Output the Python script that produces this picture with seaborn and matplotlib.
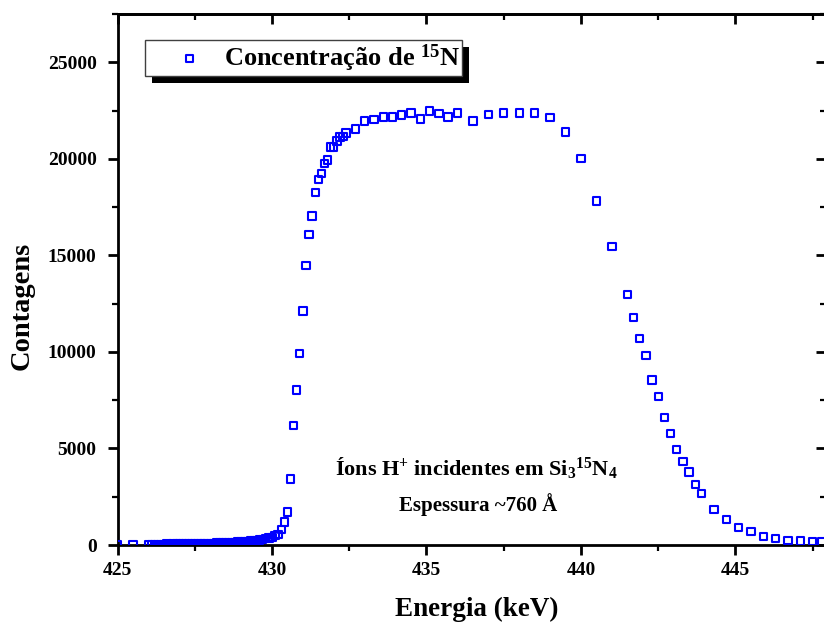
import matplotlib
matplotlib.use("Agg")
import matplotlib.pyplot as plt
import pandas as pd
import seaborn as sns
from matplotlib.patches import Rectangle
from matplotlib.ticker import MultipleLocator

# Energy of the incident protons (keV)
energia = [
    425.0, 425.5,
    426.0, 426.1, 426.2, 426.3, 426.4, 426.5, 426.6, 426.7, 426.8, 426.9,
    427.0, 427.1, 427.2, 427.3, 427.4, 427.5, 427.6, 427.7, 427.8, 427.9,
    428.0, 428.1, 428.2, 428.3, 428.4, 428.5, 428.6, 428.7, 428.8, 428.9,
    429.0, 429.1, 429.2, 429.3, 429.4, 429.5, 429.6, 429.7, 429.8, 429.9,
    430.0, 430.1, 430.2, 430.3, 430.4, 430.5, 430.6, 430.7, 430.8, 430.9,
    431.0, 431.1, 431.2, 431.3, 431.4, 431.5, 431.6, 431.7, 431.8, 431.9,
    432.0, 432.1, 432.2, 432.3, 432.4, 432.7,
    433.0, 433.3, 433.6, 433.9, 434.2, 434.5, 434.8, 435.1, 435.4, 435.7,
    436.0, 436.5, 437.0, 437.5, 438.0, 438.5, 439.0, 439.5,
    440.0, 440.5, 441.0, 441.5, 441.7, 441.9, 442.1, 442.3, 442.5, 442.7,
    442.9, 443.1, 443.3, 443.5, 443.7, 443.9, 444.3, 444.7,
    445.1, 445.5, 445.9, 446.3, 446.7, 447.1, 447.5, 447.8,
]

# Gamma-ray counts from the 15N(p,ag)12C resonance
contagens = [
    0, 20,
    30, 35, 30, 40, 35, 40, 45, 40, 45, 50,
    50, 55, 50, 60, 55, 65, 70, 65, 75, 80,
    80, 90, 95, 100, 105, 115, 120, 130, 140, 150,
    160, 175, 185, 200, 215, 235, 255, 285, 320, 370,
    400, 480, 560, 790, 1190, 1710, 3420, 6200, 8020, 9920,
    12110, 14490, 16080, 17030, 18260, 18940, 19240, 19760, 19930, 20620,
    20620, 20930, 21130, 21170, 21340, 21550,
    21960, 22050, 22170, 22170, 22270, 22380, 22070, 22480, 22350, 22170,
    22380, 21960, 22310, 22380, 22380, 22380, 22140, 21390,
    20030, 17820, 15460, 12980, 11770, 10700, 9830, 8540, 7680, 6610,
    5780, 4950, 4330, 3780, 3140, 2660, 1850, 1330,
    920, 690, 430, 330, 240, 210, 190, 160,
]

serie = "Concentração de $^{15}$N"
linha1 = "Íons H$^{+}$ incidentes em Si$_{3}$$^{15}$N$_{4}$"
linha2 = "Espessura ~760 Å"

sns.set_theme(style="ticks")
plt.rcParams.update({
    "font.family": ["Liberation Serif", "DejaVu Serif"],
    "font.weight": "bold",
    "mathtext.fontset": "custom",
    "mathtext.rm": "Liberation Serif:bold",
    "mathtext.bf": "Liberation Serif:bold",
    "mathtext.it": "Liberation Serif:bold",
    "axes.linewidth": 2.0,
    "axes.edgecolor": "black",
    "axes.labelcolor": "black",
    "xtick.color": "black",
    "ytick.color": "black",
    "xtick.labelcolor": "black",
    "ytick.labelcolor": "black",
    "text.color": "black",
})

fig = plt.figure(figsize=(8.24, 6.24), dpi=100)
ax = fig.add_axes([117.5 / 824, 79 / 624, 708.5 / 824, 531 / 624])

df = pd.DataFrame({"Energia": energia, "Contagens": contagens})
sns.scatterplot(
    data=df, x="Energia", y="Contagens", ax=ax,
    marker="s", s=28, color="#0000ff", facecolor="none",
    edgecolor="#0000ff", linewidth=1.5, label=serie, zorder=3,
)

ax.set_xlim(425, 447.93)
ax.set_ylim(0, 27500)

ax.xaxis.set_major_locator(MultipleLocator(5))
ax.xaxis.set_minor_locator(MultipleLocator(2.5))
ax.yaxis.set_major_locator(MultipleLocator(5000))
ax.yaxis.set_minor_locator(MultipleLocator(2500))
ax.tick_params(which="major", direction="out", length=7, width=2,
               labelsize=14, top=False, right=False)
ax.tick_params(axis="y", which="major", pad=8)
ax.tick_params(axis="x", which="major", pad=5)
ax.tick_params(which="minor", direction="out", length=4, width=1.6,
               top=False, right=False)

# Inward ticks on the top and right edges
topo = ax.secondary_xaxis("top")
topo.xaxis.set_major_locator(MultipleLocator(5))
topo.xaxis.set_minor_locator(MultipleLocator(2.5))
topo.tick_params(which="major", direction="in", length=7, width=2, labeltop=False)
topo.tick_params(which="minor", direction="in", length=4, width=1.6)
direita = ax.secondary_yaxis("right")
direita.yaxis.set_major_locator(MultipleLocator(5000))
direita.yaxis.set_minor_locator(MultipleLocator(2500))
direita.tick_params(which="major", direction="in", length=7, width=2, labelright=False)
direita.tick_params(which="minor", direction="in", length=4, width=1.6)

ax.set_xlabel("Energia (keV)", fontsize=19.5, fontweight="bold")
ax.set_ylabel("Contagens", fontsize=20.5, fontweight="bold")
ax.xaxis.set_label_coords(0.507, -0.098)
ax.yaxis.set_label_coords(-0.117, 0.45)

ax.text(0.506, 0.132, linha1, transform=ax.transAxes, ha="center",
        va="baseline", fontsize=16, fontweight="bold")
ax.text(0.509, 0.064, linha2, transform=ax.transAxes, ha="center",
        va="baseline", fontsize=15, fontweight="bold")

leg = ax.legend(
    loc="upper left", bbox_to_anchor=(0.0388, 0.951), borderaxespad=0,
    fontsize=19, frameon=True, fancybox=False, edgecolor="#404040",
    framealpha=1, handletextpad=-0.3, borderpad=0.08, handlelength=3.2,
)
leg.get_frame().set_linewidth(1.0)
leg.set_zorder(6)

# Solid black drop shadow behind the legend box
fig.canvas.draw()
bb = leg.get_frame().get_window_extent(fig.canvas.get_renderer())
x0, y0 = fig.transFigure.inverted().transform((bb.x0 + 7, bb.y0 - 7))
x1, y1 = fig.transFigure.inverted().transform((bb.x1 + 7, bb.y1 - 7))
ax.add_artist(Rectangle((x0, y0), x1 - x0, y1 - y0, transform=fig.transFigure,
                        facecolor="black", edgecolor="none", zorder=5,
                        clip_on=False))

fig.savefig("out.png", dpi=100)
